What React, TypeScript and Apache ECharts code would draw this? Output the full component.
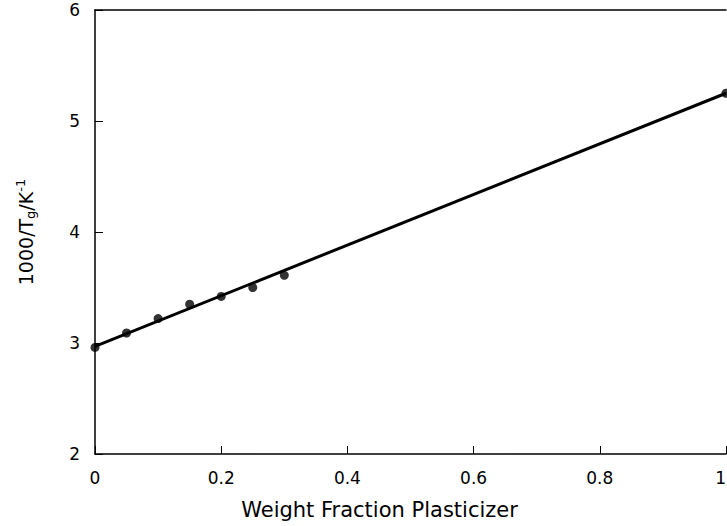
import React, { useEffect, useRef } from "react";
import * as echarts from "echarts";

const fractions = [0, 0.05, 0.1, 0.15, 0.2, 0.25, 0.3, 1.0];
const invTg = [2.96, 3.09, 3.22, 3.35, 3.42, 3.5, 3.61, 5.25];
const fitX = [0, 1];
const fitY = [2.97, 5.25];
const xTicks = { min: 0, max: 1, interval: 0.2 };
const yTicks = { min: 2, max: 6, interval: 1 };

const FONT = "DejaVu Sans";

export default function App() {
  const ref = useRef<HTMLDivElement>(null);
  useEffect(() => {
    if (!ref.current) return;
    const chart = echarts.init(ref.current, undefined, { renderer: "svg" });
    const axisLine = { show: true, lineStyle: { color: "#000", width: 1.5 } };
    chart.setOption({
      animation: false,
      backgroundColor: "#fff",
      grid: { left: 95, top: 10, width: 631, height: 444, outerBoundsMode: "none", containLabel: false },
      xAxis: [
        {
          type: "value",
          min: xTicks.min,
          max: xTicks.max,
          interval: xTicks.interval,
          axisLine,
          axisTick: { show: true, inside: true, length: 8, lineStyle: { color: "#000", width: 1 } },
          splitLine: { show: false },
          axisLabel: { color: "#000", fontFamily: FONT, fontSize: 17, margin: 15, alignMaxLabel: "right" },
          name: "Weight Fraction Plasticizer",
          nameLocation: "middle",
          nameGap: 45,
          nameTextStyle: { color: "#000", fontFamily: FONT, fontSize: 21, padding: [0, 62, 0, 0] },
        },
        {
          type: "value",
          position: "top",
          min: xTicks.min,
          max: xTicks.max,
          axisLine,
          axisTick: { show: false },
          axisLabel: { show: false },
          splitLine: { show: false },
        },
      ],
      yAxis: [
        {
          type: "value",
          min: yTicks.min,
          max: yTicks.max,
          interval: yTicks.interval,
          axisLine,
          axisTick: { show: true, inside: true, length: 8, lineStyle: { color: "#000", width: 1 } },
          splitLine: { show: false },
          axisLabel: { color: "#000", fontFamily: FONT, fontSize: 17, margin: 15 },
          name: "{n|1000/T}{sub|g}{n|/K}{sup|-1}",
          nameLocation: "middle",
          nameGap: 58,
          nameRotate: 90,
          nameTextStyle: {
            color: "#000",
            fontFamily: FONT,
            fontSize: 19,
            rich: {
              n: { color: "#000", fontFamily: FONT, fontSize: 19 },
              sub: { color: "#000", fontFamily: FONT, fontSize: 13, padding: [10, 0, 0, 0] },
              sup: { color: "#000", fontFamily: FONT, fontSize: 13, padding: [0, 0, 10, 0] },
            },
          },
        },
      ],
      series: [
        {
          type: "line",
          data: fitX.map((x, i) => [x, fitY[i]]),
          showSymbol: false,
          lineStyle: { color: "#000", width: 3 },
          z: 2,
        },
        {
          type: "scatter",
          data: fractions.map((x, i) => [x, invTg[i]]),
          symbol: "circle",
          symbolSize: 9,
          itemStyle: { color: "#000" },
          z: 3,
        },
      ],
    });
    return () => chart.dispose();
  }, []);
  return (
    <div
      ref={ref}
      style={{ position: "fixed", left: 0, top: 0, width: 727, height: 526, background: "#fff" }}
    />
  );
}
